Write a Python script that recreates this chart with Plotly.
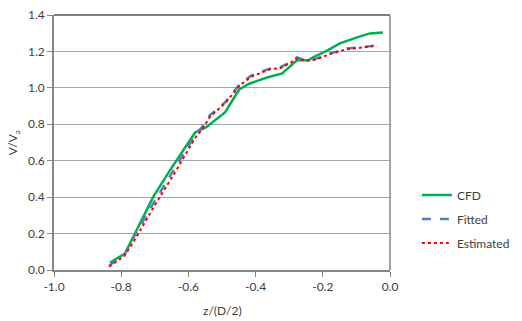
import plotly.graph_objects as go

cfd_z = [-0.833, -0.789, -0.705, -0.655, -0.58, -0.547, -0.491, -0.449, -0.417, -0.366,
         -0.321, -0.277, -0.244, -0.229, -0.1875, -0.149, -0.098, -0.06, -0.021]
cfd_v = [0.041, 0.09, 0.40, 0.547, 0.755, 0.784, 0.865, 0.991, 1.024, 1.057,
         1.079, 1.151, 1.151, 1.167, 1.205, 1.244, 1.277, 1.299, 1.304]

fit_z = [-0.836, -0.79, -0.76, -0.70, -0.64, -0.58, -0.56, -0.536, -0.491, -0.446,
         -0.412, -0.387, -0.357, -0.327, -0.298, -0.277, -0.259, -0.238, -0.217,
         -0.179, -0.128, -0.089, -0.039]
fit_v = [0.025, 0.085, 0.19, 0.38, 0.56, 0.74, 0.784, 0.849, 0.92, 1.024,
         1.068, 1.085, 1.107, 1.112, 1.14, 1.167, 1.156, 1.151, 1.162,
         1.189, 1.216, 1.222, 1.233]

est_z = [-0.836, -0.79, -0.76, -0.70, -0.64, -0.58, -0.56, -0.536, -0.491, -0.446,
         -0.412, -0.387, -0.357, -0.327, -0.298, -0.277, -0.259, -0.238, -0.217,
         -0.179, -0.128, -0.089, -0.039]
est_v = [0.018, 0.078, 0.165, 0.355, 0.535, 0.725, 0.77, 0.84, 0.915, 1.015,
         1.062, 1.08, 1.102, 1.108, 1.135, 1.162, 1.152, 1.148, 1.158,
         1.185, 1.212, 1.22, 1.232]

x_ticks = [-1.0, -0.8, -0.6, -0.4, -0.2, 0.0]
y_ticks = [0.0, 0.2, 0.4, 0.6, 0.8, 1.0, 1.2, 1.4]

fig = go.Figure()
fig.add_trace(go.Scatter(x=cfd_z, y=cfd_v, mode="lines", name="CFD", legendgroup="a",
                         line=dict(color="#00B050", width=2.5)))
fig.add_trace(go.Scatter(x=fit_z, y=fit_v, mode="lines", name="Fitted", legendgroup="b",
                         line=dict(color="#4F81BD", width=2.5, dash="dash")))
fig.add_trace(go.Scatter(x=est_z, y=est_v, mode="lines", name="Estimated", legendgroup="c",
                         line=dict(color="#FF0000", width=2, dash="dot")))

font = dict(family="Lato, Open Sans, sans-serif", size=12, color="#404040")

fig.update_layout(
    width=522, height=321,
    margin=dict(l=54, r=132, t=15, b=51, autoexpand=False),
    paper_bgcolor="white", plot_bgcolor="white",
    font=font,
    showlegend=True,
    legend=dict(x=1.08, y=0.2, xanchor="left", yanchor="middle",
                font=font, tracegroupgap=5, itemwidth=30,
                bgcolor="rgba(0,0,0,0)"),
    xaxis=dict(range=[-1.0, 0.0], tickvals=x_ticks,
               ticktext=[f"{t:.1f}" for t in x_ticks],
               showgrid=False, zeroline=False, automargin=False,
               showline=True, linecolor="#868686", linewidth=1.5,
               ticks="outside", ticklen=5, tickcolor="#868686"),
    yaxis=dict(range=[0.0, 1.4], tickvals=y_ticks,
               ticktext=[f"{t:.1f}" for t in y_ticks],
               showgrid=True, gridcolor="#A6A6A6", gridwidth=1,
               zeroline=False, automargin=False,
               showline=True, linecolor="#868686", linewidth=1.5,
               ticks="outside", ticklen=5, tickcolor="#868686"),
)
fig.add_annotation(text="z/(D/2)", xref="paper", yref="paper", x=0.5, y=-0.16,
                   xanchor="center", yanchor="middle", showarrow=False, font=font)
fig.add_annotation(text="V/V<sub>a</sub>", xref="paper", yref="paper", x=-0.12, y=0.5,
                   xanchor="center", yanchor="middle", textangle=-90,
                   showarrow=False, font=font)
fig.add_shape(type="line", xref="paper", yref="paper", x0=0, x1=1, y0=1, y1=1,
              line=dict(color="#000000", width=1.2))
fig.add_shape(type="line", xref="paper", yref="paper", x0=1, x1=1, y0=0, y1=1,
              line=dict(color="#868686", width=1.5))

# remove the default 8px page margin so the figure fills the window exactly
fig.write_html("out.html", config={"displayModeBar": False},
               post_script="document.body.style.margin='0';document.body.style.overflow='hidden';")
